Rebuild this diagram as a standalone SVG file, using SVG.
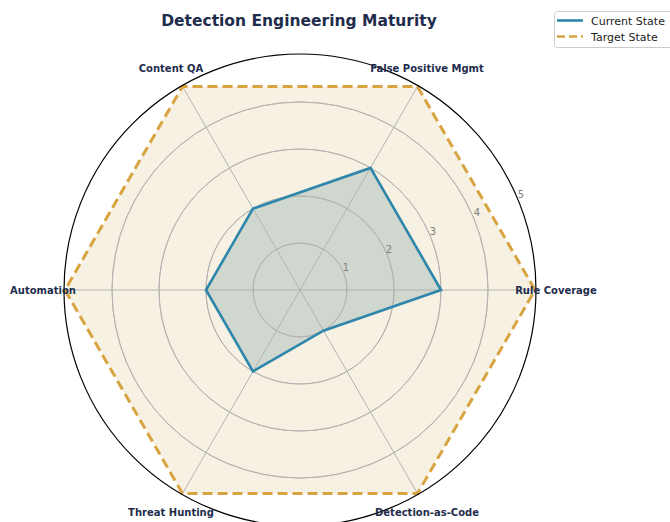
<svg xmlns="http://www.w3.org/2000/svg" width="670" height="522" viewBox="0 0 670 522">
<style>
.grid{fill:none;stroke:#b3b3b3;stroke-width:1}
.lbl{font-family:"DejaVu Sans",sans-serif;font-weight:bold;font-size:10px;fill:#1f2d4d;text-anchor:middle}
.tick{font-family:"DejaVu Sans",sans-serif;font-size:10px;fill:#808080;text-anchor:middle}
.leg{font-family:"DejaVu Sans",sans-serif;font-size:11px;fill:#222}
</style>
<rect width="670" height="522" fill="#ffffff"/>
<text x="299" y="26" font-family="DejaVu Sans, sans-serif" font-weight="bold" font-size="15.5" fill="#1f2d4d" text-anchor="middle">Detection Engineering Maturity</text>
<g id="grid">
<circle class="grid" cx="300" cy="290" r="47"/>
<circle class="grid" cx="300" cy="290" r="94"/>
<circle class="grid" cx="300" cy="290" r="141"/>
<circle class="grid" cx="300" cy="290" r="188"/>
</g>
<g id="target">
<polygon points="535,290 417.5,86.5 182.5,86.5 65,290 182.5,493.5 417.5,493.5" fill="#dfcc96" fill-opacity="0.28" stroke="none"/>
</g>
<g id="current">
<polygon points="441,290 370.5,167.9 253,208.6 206,290 253,371.4 323.5,330.7" fill="#9fb8b8" fill-opacity="0.45" stroke="none"/>
</g>
<g id="gridlines">
<circle class="grid" cx="300" cy="290" r="47"/>
<circle class="grid" cx="300" cy="290" r="94"/>
<circle class="grid" cx="300" cy="290" r="141"/>
<circle class="grid" cx="300" cy="290" r="188"/>
<line class="grid" x1="300" y1="290" x2="536" y2="290"/>
<line class="grid" x1="300" y1="290" x2="418" y2="85.6"/>
<line class="grid" x1="300" y1="290" x2="182" y2="85.6"/>
<line class="grid" x1="300" y1="290" x2="64" y2="290"/>
<line class="grid" x1="300" y1="290" x2="182" y2="494.4"/>
<line class="grid" x1="300" y1="290" x2="418" y2="494.4"/>
</g>
<g id="ticks">
<text class="tick" x="346" y="271">1</text>
<text class="tick" x="389" y="253">2</text>
<text class="tick" x="433" y="235">3</text>
<text class="tick" x="477" y="216">4</text>
<text class="tick" x="521" y="198">5</text>
</g>
<g id="connectors">
<polygon points="535,290 417.5,86.5 182.5,86.5 65,290 182.5,493.5 417.5,493.5" fill="none" stroke="#d8a441" stroke-width="3" stroke-dasharray="10,5" stroke-linejoin="miter"/>
<polygon points="441,290 370.5,167.9 253,208.6 206,290 253,371.4 323.5,330.7" fill="none" stroke="#2e86ab" stroke-width="2.6" stroke-linejoin="miter"/>
</g>
<circle cx="300" cy="290" r="236" fill="none" stroke="#000000" stroke-width="1.2"/>
<g id="n-rule"><text class="lbl" x="556" y="294">Rule Coverage</text></g>
<g id="n-fp"><text class="lbl" x="427" y="72">False Positive Mgmt</text></g>
<g id="n-cqa"><text class="lbl" x="171" y="72">Content QA</text></g>
<g id="n-auto"><text class="lbl" x="43" y="294">Automation</text></g>
<g id="n-th"><text class="lbl" x="171" y="516">Threat Hunting</text></g>
<g id="n-dac"><text class="lbl" x="427" y="516">Detection-as-Code</text></g>
<g id="legend">
<rect x="554.5" y="11.5" width="124" height="36" rx="3" fill="#ffffff" fill-opacity="0.8" stroke="#cccccc"/>
<line x1="557" y1="20.5" x2="583" y2="20.5" stroke="#2e86ab" stroke-width="2.6"/>
<line x1="557" y1="36.5" x2="583" y2="36.5" stroke="#d8a441" stroke-width="2.6" stroke-dasharray="8,4"/>
<text class="leg" x="591" y="25">Current State</text>
<text class="leg" x="591" y="41">Target State</text>
</g>
</svg>
